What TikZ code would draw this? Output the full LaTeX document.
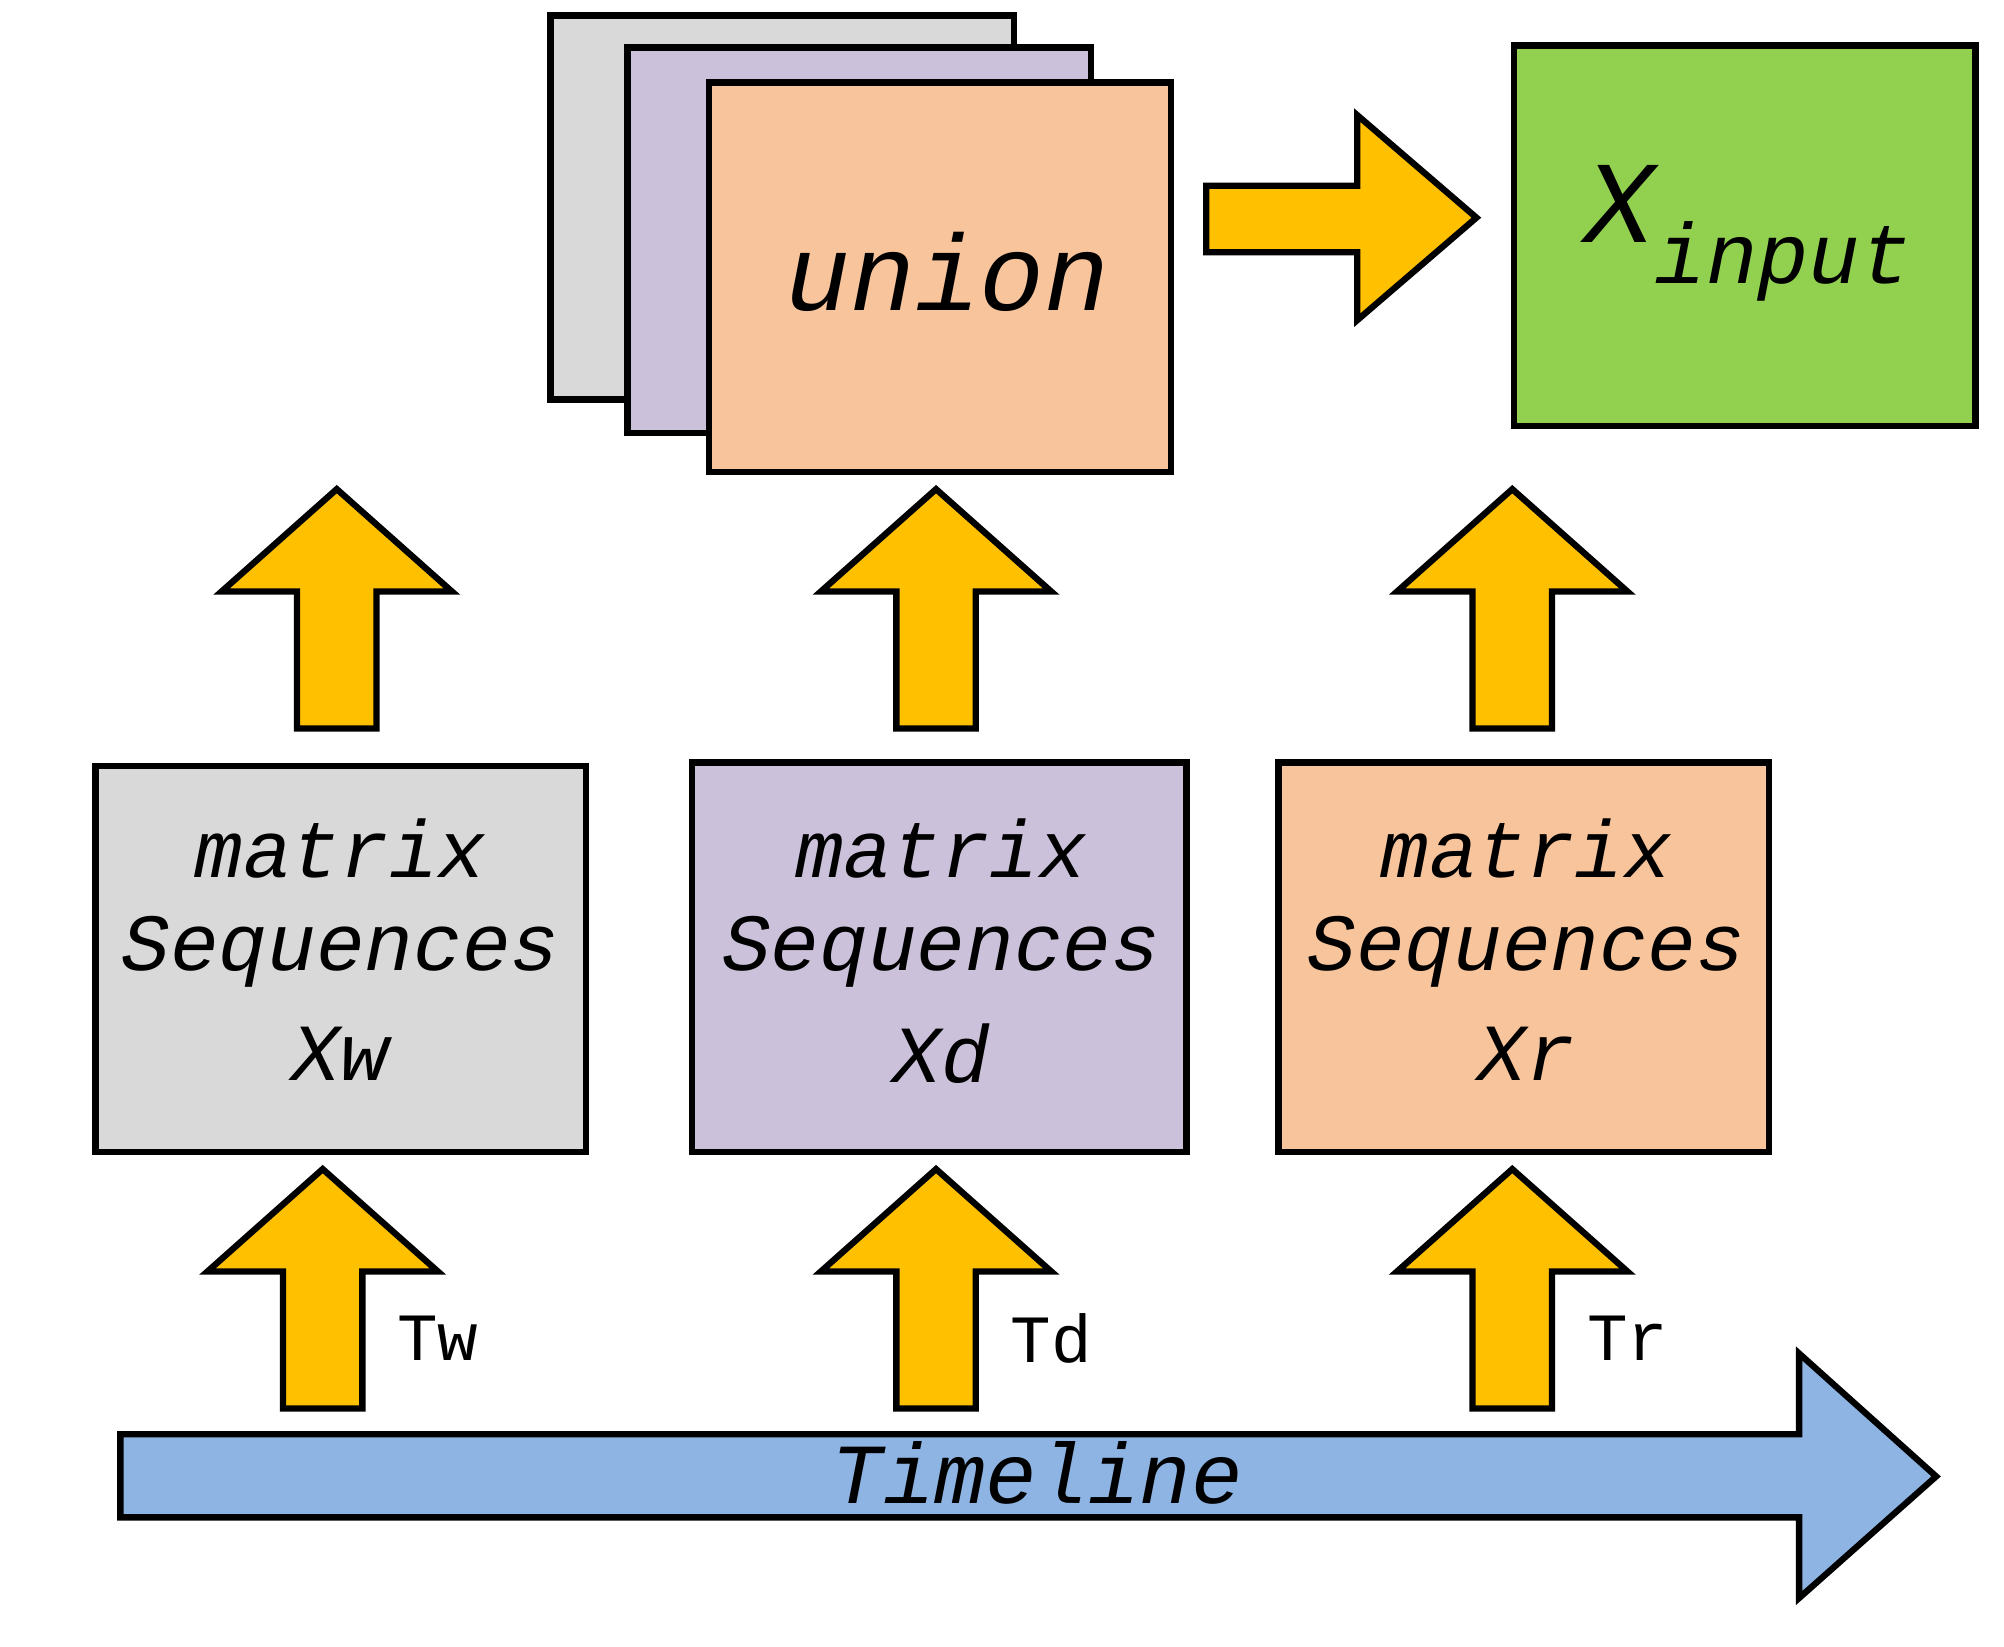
\documentclass[tikz,border=0pt]{standalone}
\usepackage{fontspec}
\newfontfamily\lmono{Liberation Mono}
\definecolor{cgray}{HTML}{D9D9D9}
\definecolor{cpurp}{HTML}{CCC1DA}
\definecolor{corng}{HTML}{F8C49C}
\definecolor{cgrn}{HTML}{92D050}
\definecolor{cyel}{HTML}{FFC000}
\definecolor{cblu}{HTML}{8EB4E3}
\newcommand\myuparr[4]{\filldraw[blk,fill=cyel] (#1-31,#4) -- (#1-31,#3) -- (#1-90,#3) -- (#1,#2) -- (#1+90,#3) -- (#1+31,#3) -- (#1+31,#4) -- cycle;}
\begin{document}
\begin{tikzpicture}[x=0.01cm,y=-0.01cm,
  blk/.style={draw=black,line width=1.4pt,line join=miter},
  box/.style={blk,rectangle,anchor=north west,inner sep=0pt,align=center},
  seq/.style={font=\lmono\itshape\fontsize{18}{22.5}\selectfont},
  tl/.style={font=\lmono\fontsize{15}{18}\selectfont}]
\useasboundingbox (0,0) rectangle (1565,1286);
% stacked
\filldraw[blk,fill=cgray] (430,12) rectangle (792,312);
\filldraw[blk,fill=cpurp] (490,37) rectangle (852,338);
\node[box,fill=corng,minimum width=361\pgflinewidth*0+3.61cm,minimum height=3.04cm] (union) at (551,62) {};
\node[font=\lmono\itshape\fontsize{24}{28}\selectfont] (ut) at (740,212) {union};
% green
\node[box,fill=cgrn,minimum width=3.6cm,minimum height=2.97cm] (xin) at (1180,33) {};
\node[font=\lmono\itshape\fontsize{26}{30}\selectfont] (xt) at (1365,182) {X\raisebox{-0.35em}{\fontsize{19}{22}\selectfont input}};
% right arrow
\filldraw[blk,fill=cyel] (942,145) -- (1060,145) -- (1060,90) -- (1153,170) -- (1060,250) -- (1060,197) -- (942,197) -- cycle;
% up arrows
\myuparr{263}{382}{462}{569}
\myuparr{731}{382}{462}{569}
\myuparr{1181}{382}{462}{569}
\myuparr{252}{913}{993}{1100}
\myuparr{731}{913}{993}{1100}
\myuparr{1181}{913}{993}{1100}
% boxes
\node[box,fill=cgray,minimum width=3.83cm,minimum height=3.01cm] (bw) at (72,596) {};
\node[box,fill=cpurp,minimum width=3.86cm,minimum height=3.04cm] (bd) at (538,593) {};
\node[box,fill=corng,minimum width=3.83cm,minimum height=3.04cm] (br) at (996,593) {};
\foreach \n/\x/\s in {w/266/Xw,d/735/Xd,r/1192/Xr}{
  \node[seq] (m\n) at (\x,663) {matrix};
  \node[seq] (s\n) at (\x,743) {Sequences};
  \node[seq] (x\n) at (\x,823) {\s};
}
% timeline
\filldraw[blk,fill=cblu] (94,1120) -- (1405,1120) -- (1405,1057) -- (1512,1153) -- (1405,1248) -- (1405,1185) -- (94,1185) -- cycle;
\node[seq,font=\lmono\itshape\fontsize{19}{22}\selectfont] (tline) at (810,1150) {Timeline};
\node[tl] (tw) at (342,1045) {Tw};
\node[tl] (td) at (821,1045) {Td};
\node[tl] (tr) at (1271,1045) {Tr};
\end{tikzpicture}
\end{document}
